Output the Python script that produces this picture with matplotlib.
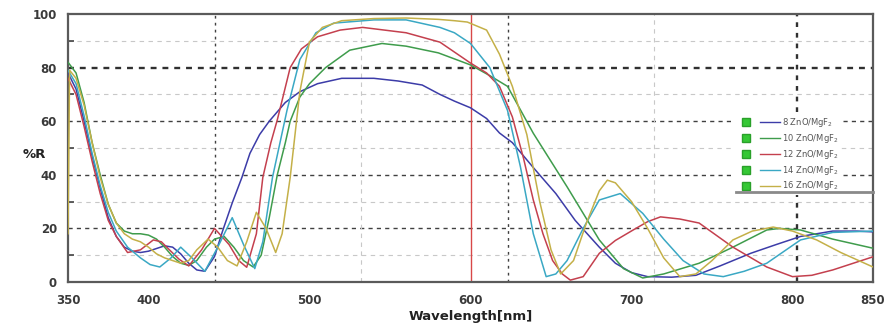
import matplotlib
matplotlib.use("Agg")
import matplotlib.pyplot as plt
from matplotlib.lines import Line2D
from matplotlib.legend_handler import HandlerTuple

# ---------------- data ----------------
labels = [r"8 ZnO/MgF$_2$", r"10 ZnO/MgF$_2$", r"12 ZnO/MgF$_2$",
          r"14 ZnO/MgF$_2$", r"16 ZnO/MgF$_2$"]

blue_wl = [350, 355, 360, 365, 370, 375, 380, 385, 390, 395, 400, 405, 410, 415, 420, 425, 430, 435,
           441, 446, 452, 458, 463, 469, 475, 485, 494, 505, 520, 540, 555, 570, 581, 590, 600, 610,
           618, 626, 640, 653, 665, 680, 690, 700, 710, 725, 740, 755, 774, 790, 805, 825, 840, 850]
blue_r = [78, 72, 60, 47, 35, 24, 17, 13, 11.5, 11, 11.5, 12.5, 13.5, 13, 10.5, 7, 4.5, 4,
          9.5, 19, 29.5, 39, 48, 55, 60, 67, 71, 74, 76, 76, 75, 73.5, 70, 67.5, 65, 61,
          55.6, 52, 42, 33, 23, 13, 7, 3.5, 2, 1.8, 2.5, 6, 10.7, 14, 17, 19, 19, 18.7]

green_wl = [350, 355, 360, 365, 370, 375, 380, 385, 390, 395, 400, 405, 410, 415, 420, 425, 430, 436,
            441, 447, 453, 459, 465, 470, 475, 480, 485, 488, 494, 500, 510, 525, 545, 560, 580, 600,
            612, 623, 639, 660, 680, 695, 707, 720, 742, 763, 784, 792, 805, 825, 850]
green_r = [82, 78, 67, 52, 40, 29, 22, 19, 18, 18, 17.5, 16, 13, 9.5, 7, 6.2, 8, 13,
           16, 17, 13, 8, 5.6, 10, 24, 40, 52, 60, 69, 74, 80, 86.5, 89, 88, 85.5, 81,
           77, 73, 55.5, 35.5, 15.7, 5, 1.5, 3, 7, 13, 19.4, 20, 19.4, 16, 12.6]

red_wl = [350, 355, 360, 365, 370, 375, 380, 387, 395, 403, 408, 413, 419, 425, 433, 441, 450, 456,
          461, 467, 471, 476, 480, 488, 495, 505, 519, 533, 560, 581, 600, 610, 618, 626, 633, 639,
          645, 651, 657, 662, 670, 680, 690, 701, 710, 718, 730, 742, 763, 784, 800, 812, 825, 850]
red_r = [76, 70, 58, 45, 33, 23, 17, 11, 12, 15.7, 15, 12, 8.5, 6, 12, 20, 14, 8,
         5.5, 18, 39, 52, 60.5, 80, 87, 91.5, 94, 95, 93, 89.5, 81.7, 78, 73, 61.6, 46, 30.6,
         18, 8, 3, 0.7, 2, 10.7, 15.5, 19.4, 22.5, 24.3, 23.5, 22, 13, 5.6, 2, 2.5, 4.5, 9.4]

cyan_wl = [350, 355, 360, 365, 370, 375, 380, 387, 395, 401, 407, 414, 420, 427, 435, 443, 452, 459,
           466, 471, 477, 486, 494, 504, 515, 540, 560, 581, 590, 600, 612, 623, 631, 639, 647, 653,
           660, 670, 680, 693, 707, 720, 732, 745, 757, 770, 784, 805, 825, 850]
cyan_r = [79, 74, 62, 48, 36, 26, 19, 13, 9, 6.5, 5.6, 9, 13, 9, 4, 13, 24, 14,
          5, 15, 39, 64, 83, 93, 96.6, 97.8, 97.8, 95, 93, 89, 80, 64, 43, 18, 2, 3,
          8, 20, 30.6, 33, 25.6, 16, 8, 3, 2, 4, 7, 15.7, 18.5, 19]

yellow_wl = [350, 351, 355, 360, 365, 370, 375, 380, 385, 390, 395, 400, 405, 410, 415, 420, 425, 430,
             437, 443, 449, 455, 461, 467, 473, 479, 483, 488, 494, 500, 508, 520, 540, 560, 580,
             590, 598, 610, 618, 626, 635, 643, 650, 656, 664, 672, 680, 685, 690, 700, 710, 720,
             730, 740, 750, 763, 775, 788, 800, 815, 830, 850]
yellow_r = [18, 79, 76, 66, 52, 39, 29, 22, 18, 16, 15, 13, 10.5, 9, 8, 7, 8, 12,
            16, 13, 8, 6, 15, 26, 20, 11, 18, 39, 71, 89.6, 95, 97.5, 98.3, 98.5, 98,
            97.5, 97, 94, 85, 73, 55, 30, 12, 3, 8, 22, 34, 38, 37, 30, 20, 9,
            2, 3, 8, 15.7, 19, 20.5, 19, 15.7, 11, 5.6]

series = [
    (blue_wl, blue_r, "#3c3ca8"),
    (green_wl, green_r, "#3f9c4c"),
    (red_wl, red_r, "#c4404e"),
    (cyan_wl, cyan_r, "#3aa8c4"),
    (yellow_wl, yellow_r, "#c4b048"),
]

x_ticks = [350, 400, 500, 600, 700, 800, 850]
y_ticks = [0, 20, 40, 60, 80, 100]
marker_wl = 600

# ---------------- figure ----------------
fig = plt.figure(figsize=(8.85, 3.34), dpi=100)
ax = fig.add_axes([68 / 885, 1 - 282 / 334, (873 - 68) / 885, (282 - 14) / 334])

# grid (decoration)
for yv in [10, 30, 50, 70, 90]:
    ax.axhline(yv, color="#c8c8c8", lw=0.8, ls=(0, (4, 4)), zorder=1)
for yv in [20, 40, 60]:
    ax.axhline(yv, color="#404040", lw=1.0, ls=(0, (3, 3)), zorder=1)
ax.axhline(80, color="#303030", lw=1.7, ls=(0, (2.5, 2.5)), zorder=1)
for xv in [532, 714]:
    ax.axvline(xv, color="#c8c8c8", lw=0.8, ls=(0, (4, 4)), zorder=1)
ax.axvline(441, color="#404040", lw=1.0, ls=(0, (2, 3)), zorder=1)
ax.axvline(623, color="#404040", lw=1.0, ls=(0, (2, 3)), zorder=1)
ax.axvline(803, color="#303030", lw=1.7, ls=(0, (2, 2.5)), zorder=1)
ax.axvline(marker_wl, color="#d84848", lw=1.0, zorder=2)

lines = []
for wl, r, c in series:
    (ln,) = ax.plot(wl, r, color=c, lw=1.1, zorder=3)
    lines.append(ln)

ax.set_xlim(350, 850)
ax.set_ylim(0, 100)
ax.set_xticks(x_ticks)
ax.set_yticks(y_ticks)
ax.set_yticks([10, 30, 50, 70, 90], minor=True)
ax.tick_params(axis="both", which="major", length=0, labelsize=8.5, labelcolor="#3a3a3a")
ax.tick_params(axis="x", pad=9)
ax.tick_params(axis="y", pad=8)
ax.tick_params(axis="y", which="minor", direction="in", length=4, width=1.2, color="#444444")
for lab in ax.get_xticklabels() + ax.get_yticklabels():
    lab.set_fontweight("bold")
for sp in ax.spines.values():
    sp.set_color("#5a5a5a")
    sp.set_linewidth(1.6)

ax.set_xlabel("Wavelength[nm]", fontsize=9.5, fontweight="bold", color="#222222", labelpad=2)
ax.set_ylabel("%R", fontsize=9.5, fontweight="bold", color="#222222", rotation=0, labelpad=14)
ax.yaxis.set_label_coords(-0.042, 0.45)

# legend
handles = []
for ln in lines:
    mk = Line2D([], [], ls="none", marker="s", markersize=6,
                markerfacecolor="#35c835", markeredgecolor="#2aa02a")
    sample = Line2D([], [], color=ln.get_color(), lw=1.0)
    handles.append((mk, sample))
leg = ax.legend(handles, labels, handler_map={tuple: HandlerTuple(ndivide=None, pad=0.4)},
                loc="upper left", bbox_to_anchor=(0.822, 0.645), fontsize=6,
                handlelength=5.2, handletextpad=0.3, labelspacing=0.35,
                borderpad=0.3, frameon=True, fancybox=False, framealpha=1.0)
leg.get_frame().set_edgecolor("none")
leg.get_frame().set_facecolor("white")
for t in leg.get_texts():
    t.set_color("#555555")
ax.plot([0.83, 1.0], [0.336, 0.336], transform=ax.transAxes, color="#8a8a8a", lw=2.0,
        zorder=6, clip_on=False)

fig.savefig("out.png", dpi=100)
